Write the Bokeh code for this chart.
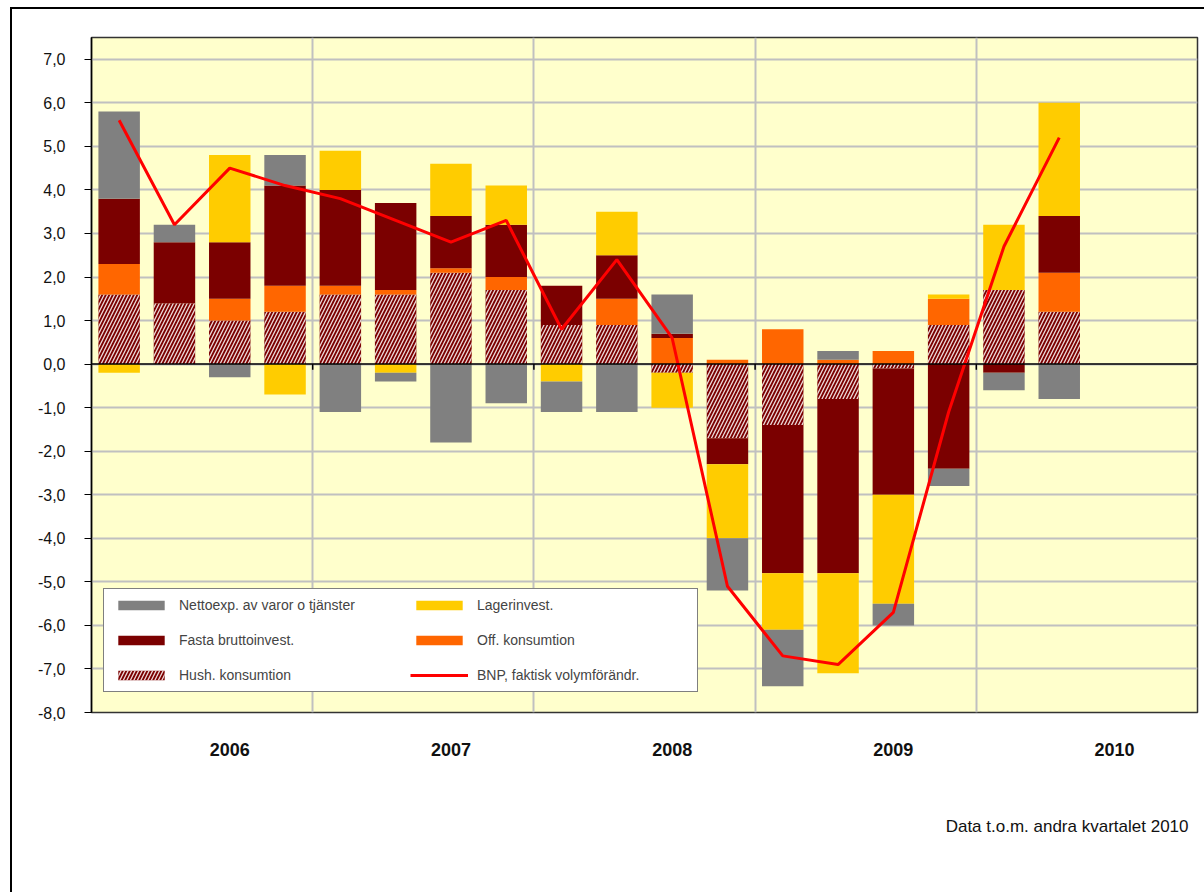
from bokeh.plotting import figure
from bokeh.models import (ColumnDataSource, FixedTicker, Legend, LegendItem, Span, Title)
from bokeh.embed import file_html
from bokeh.resources import INLINE

# ---- data (Sweden, contributions to GDP growth, quarterly 2006Q1-2010Q2) ----
quarters = ["2006K1", "2006K2", "2006K3", "2006K4", "2007K1", "2007K2", "2007K3", "2007K4",
            "2008K1", "2008K2", "2008K3", "2008K4", "2009K1", "2009K2", "2009K3", "2009K4",
            "2010K1", "2010K2"]
hush = [1.6, 1.4, 1.0, 1.2, 1.6, 1.6, 2.1, 1.7, 0.9, 0.9, -0.2, -1.7, -1.4, -0.8, -0.1, 0.9, 1.7, 1.2]
off = [0.7, 0.0, 0.5, 0.6, 0.2, 0.1, 0.1, 0.3, 0.0, 0.6, 0.6, 0.1, 0.8, 0.1, 0.3, 0.6, 0.0, 0.9]
fasta = [1.5, 1.4, 1.3, 2.3, 2.2, 2.0, 1.2, 1.2, 0.9, 1.0, 0.1, -0.6, -3.4, -4.0, -2.9, -2.4, -0.2, 1.3]
lager = [-0.2, 0.0, 2.0, -0.7, 0.9, -0.2, 1.2, 0.9, -0.4, 1.0, -0.8, -1.7, -1.3, -2.3, -2.5, 0.1, 1.5, 2.6]
netto = [2.0, 0.4, -0.3, 0.7, -1.1, -0.2, -1.8, -0.9, -0.7, -1.1, 0.9, -1.2, -1.3, 0.2, -0.5, -0.4, -0.4, -0.8]
bnp = [5.6, 3.2, 4.5, 4.1, 3.8, 3.3, 2.8, 3.3, 0.8, 2.4, 0.6, -5.1, -6.7, -6.9, -5.7, -1.1, 2.7, 5.2]

year_labels = ["2006", "2007", "2008", "2009", "2010"]
y_ticks = [7, 6, 5, 4, 3, 2, 1, 0, -1, -2, -3, -4, -5, -6, -7, -8]
y_tick_labels = ["7,0", "6,0", "5,0", "4,0", "3,0", "2,0", "1,0", "0,0", "-1,0", "-2,0",
                 "-3,0", "-4,0", "-5,0", "-6,0", "-7,0", "-8,0"]
footnote = "Data t.o.m. andra kvartalet 2010"

series = [
    ("Hush. konsumtion", hush, "#7B0000"),
    ("Off. konsumtion", off, "#FF6600"),
    ("Fasta bruttoinvest.", fasta, "#7B0000"),
    ("Lagerinvest.", lager, "#FFCC00"),
    ("Nettoexp. av varor o tjänster", netto, "#808080"),
]

n = len(quarters)
xs = [i + 0.5 for i in range(n)]
n_slots = n + 2  # category axis has room for two more quarters (2010K3-K4)
year_bounds = [4 * k for k in range(1, len(year_labels))]

p = figure(width=1204, height=892, x_range=(0, n_slots), y_range=(-8, 7.5),
           output_backend="svg", toolbar_location=None, title=None,
           min_border_left=91, min_border_right=7, min_border_top=37, min_border_bottom=179,
           background_fill_color="#FFFFCC", border_fill_color="white", border_fill_alpha=0.0)
p.outline_line_color = "#333333"
p.outline_line_width = 1.5
# outer chart frame (top and left edges visible inside the window)
p.styles = {"box-shadow": "inset 10px 7px 0 0 white, inset 12px 9px 0 0 black"}

# stacked bars: positives stack up, negatives stack down, in series order
pos_base = [0.0] * n
neg_base = [0.0] * n
renderers = {}
for name, vals, color in series:
    bottoms, tops = [], []
    for i, v in enumerate(vals):
        if v >= 0:
            bottoms.append(pos_base[i]); tops.append(pos_base[i] + v); pos_base[i] += v
        else:
            bottoms.append(neg_base[i]); tops.append(neg_base[i] + v); neg_base[i] += v
    src = ColumnDataSource(dict(x=xs, bottom=bottoms, top=tops))
    kw = {}
    if name.startswith("Hush"):
        kw = dict(hatch_pattern="/", hatch_color="white", hatch_alpha=0.85,
                  hatch_scale=7, hatch_weight=1.3)
    r = p.vbar(x="x", bottom="bottom", top="top", width=0.75, source=src,
               fill_color=color, line_color=None, **kw)
    renderers[name] = r

line_src = ColumnDataSource(dict(x=xs, y=bnp))
r_line = p.line(x="x", y="y", source=line_src, line_color="#FF0000", line_width=3)
renderers["BNP, faktisk volymförändr."] = r_line

# zero line with small tick marks at the year boundaries
p.add_layout(Span(location=0, dimension="width", line_color="black", line_width=1.5))
p.segment(x0=year_bounds, y0=[0] * len(year_bounds), x1=year_bounds,
          y1=[-0.13] * len(year_bounds), line_color="black", line_width=1.5)

# axes
p.yaxis.ticker = FixedTicker(ticks=y_ticks)
p.yaxis.major_label_overrides = {t: l for t, l in zip(y_ticks, y_tick_labels)}
p.yaxis.axis_line_color = "black"
p.yaxis.axis_line_width = 1.5
p.yaxis.major_tick_line_color = "black"
p.yaxis.major_tick_out = 7
p.yaxis.major_tick_in = 0
p.yaxis.minor_tick_line_color = None
p.yaxis.major_label_standoff = 19
p.yaxis.major_label_text_font = "Liberation Sans"
p.yaxis.major_label_text_font_size = "16px"
p.yaxis.major_label_text_color = "#111111"

label_pos = [4 * k + 2.5 for k in range(len(year_labels))]
p.xaxis.ticker = FixedTicker(ticks=label_pos)
p.xaxis.major_label_overrides = {t: l for t, l in zip(label_pos, year_labels)}
p.xaxis.axis_line_color = None
p.xaxis.major_tick_line_color = None
p.xaxis.minor_tick_line_color = None
p.xaxis.major_label_standoff = 24
p.xaxis.major_label_text_font = "Liberation Sans"
p.xaxis.major_label_text_font_style = "bold"
p.xaxis.major_label_text_font_size = "18px"
p.xaxis.major_label_text_color = "#111111"

# grids
p.ygrid.ticker = FixedTicker(ticks=y_ticks)
p.ygrid.grid_line_color = "#C0C0C0"
p.ygrid.grid_line_width = 2
p.xgrid.ticker = FixedTicker(ticks=year_bounds)
p.xgrid.grid_line_color = "#C0C0C0"
p.xgrid.grid_line_width = 2

# legend
order = ["Nettoexp. av varor o tjänster", "Fasta bruttoinvest.", "Hush. konsumtion",
         "Lagerinvest.", "Off. konsumtion", "BNP, faktisk volymförändr."]
items = [LegendItem(label=nm, renderers=[renderers[nm]]) for nm in order]
legend = Legend(items=items, location=(12, 20), ncols=2,
                glyph_width=58, glyph_height=12, label_height=14, label_width=212,
                label_standoff=9, spacing=19, padding=8,
                label_text_font="Liberation Sans", label_text_font_size="14px",
                border_line_color="black", border_line_width=1.2,
                background_fill_color="white", background_fill_alpha=1.0)
p.add_layout(legend, "center")

# footnote
p.add_layout(Title(text=footnote, align="right", offset=9, standoff=113,
                   text_font="Liberation Sans", text_font_size="17px",
                   text_font_style="normal", text_color="#111111"), "below")

open("out.html", "w").write(file_html(p, INLINE))
